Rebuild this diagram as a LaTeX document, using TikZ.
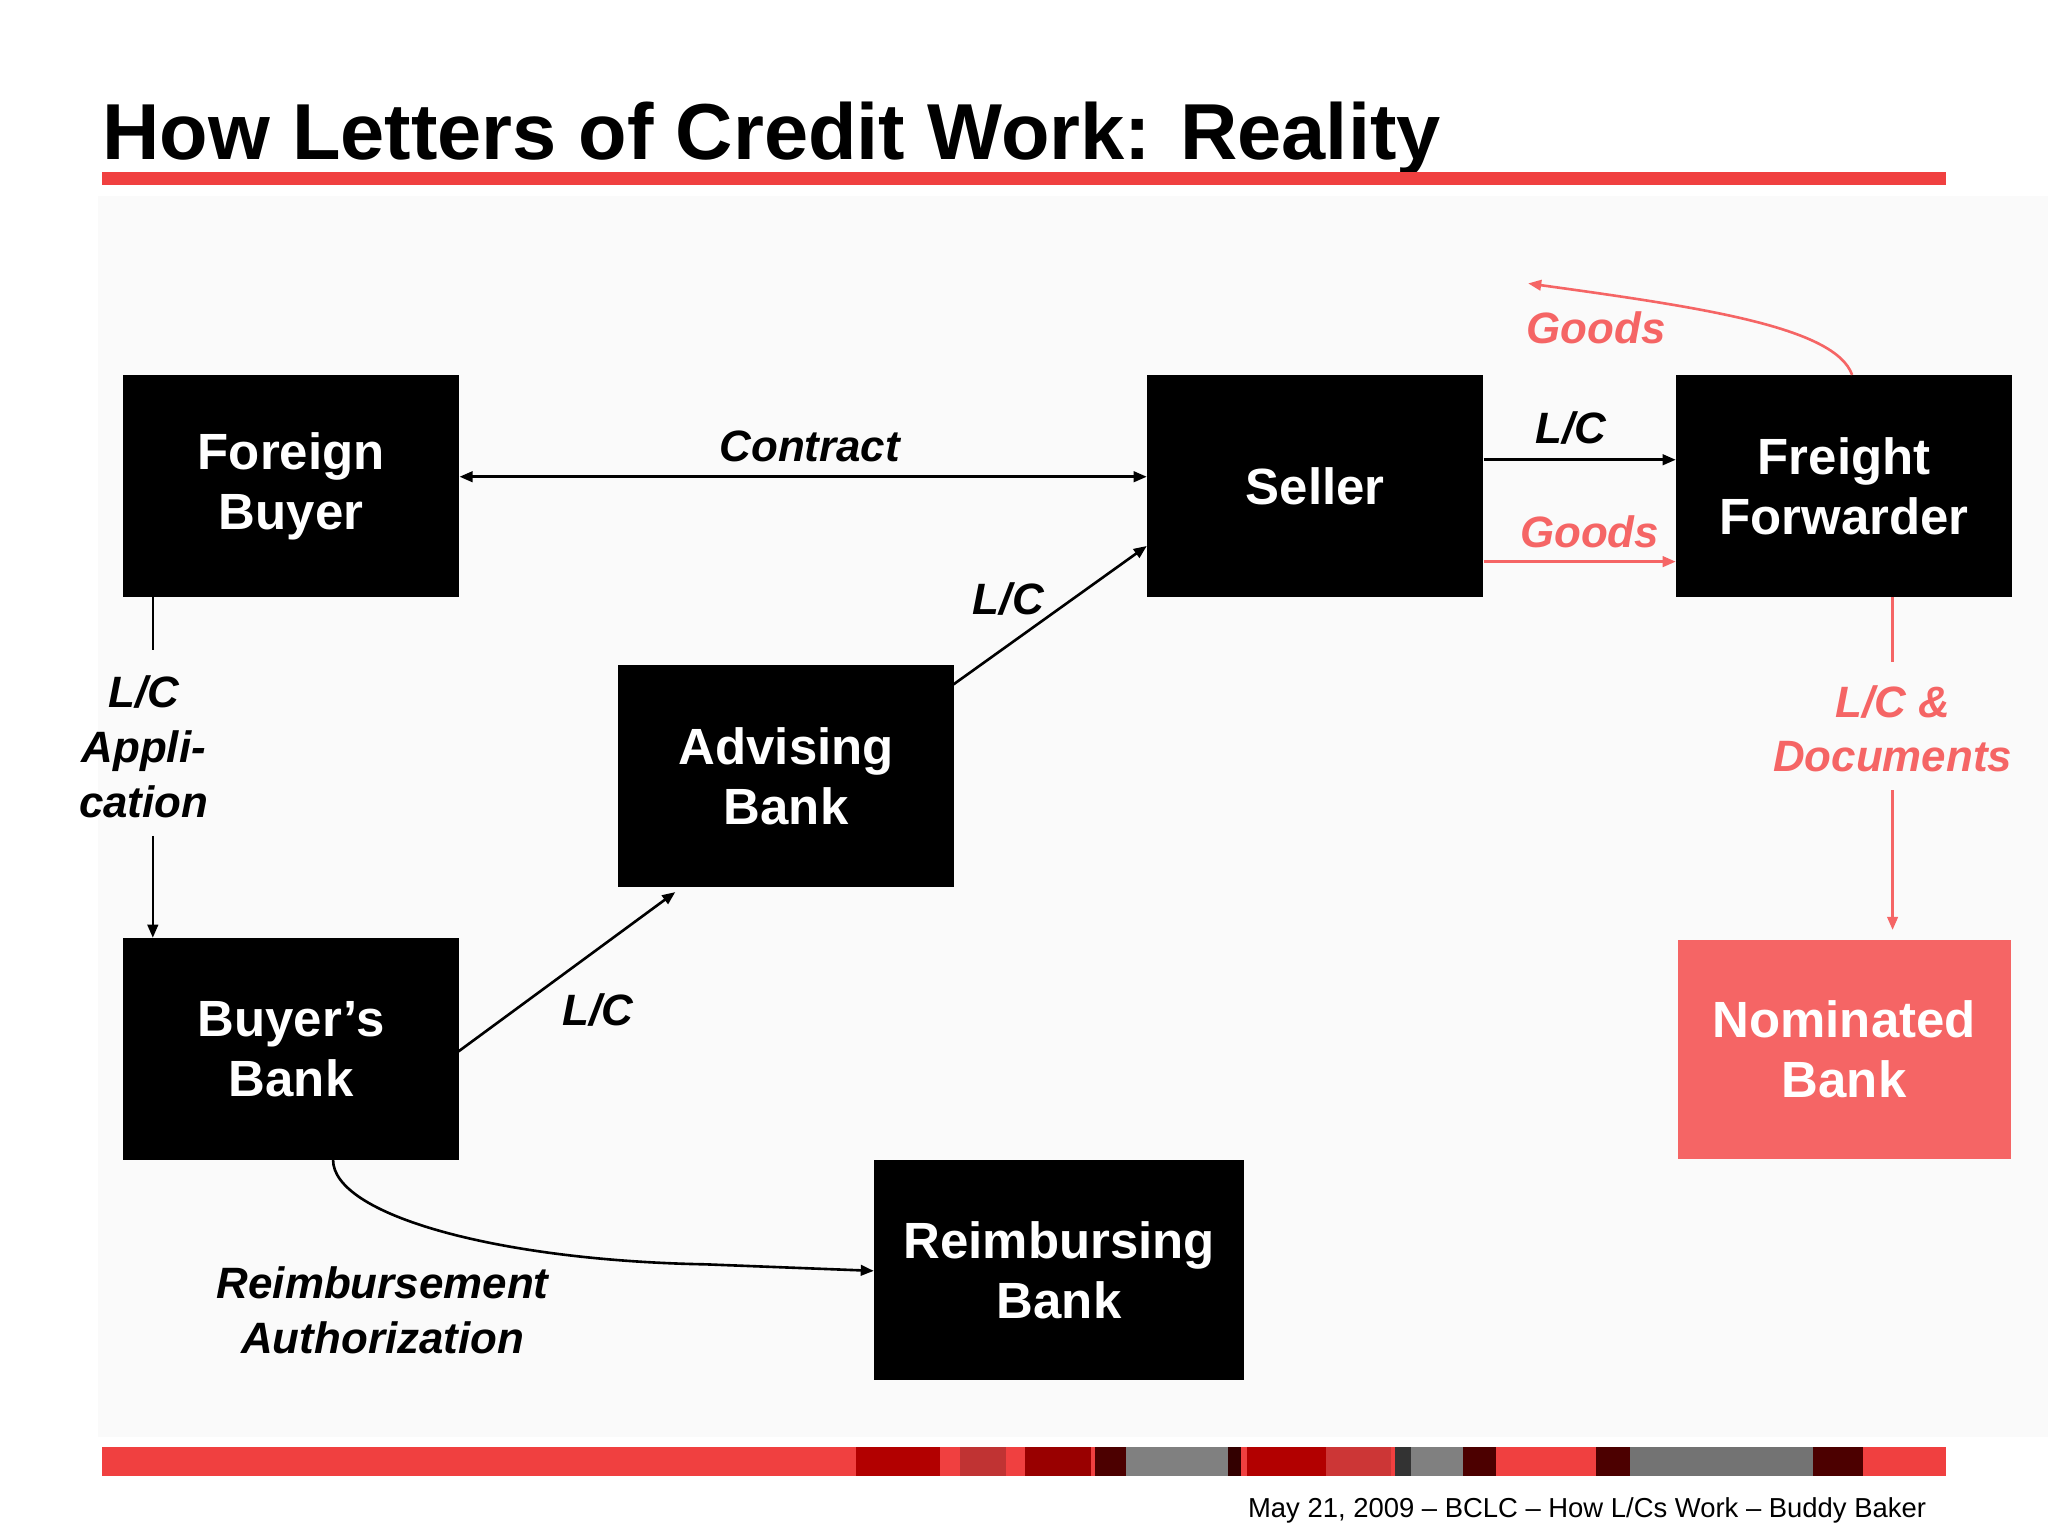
\documentclass[tikz,border=0pt]{standalone}
\usepackage{fontspec}
\setmainfont{Liberation Sans}
\usetikzlibrary{arrows.meta}
\definecolor{barred}{HTML}{F04040}
\definecolor{nomred}{HTML}{F56565}
\begin{document}
\begin{tikzpicture}[x=0.5pt,y=-0.5pt,
  box/.style={fill=black,text=white,font=\fontsize{19.5}{23}\selectfont\bfseries,align=center,anchor=north west,inner sep=0pt,minimum width=128.5pt,minimum height=85pt},
  lab/.style={font=\fontsize{16.8}{21}\selectfont\bfseries\itshape,align=center},
  rlab/.style={lab,text=nomred},
  arr/.style={-{Triangle[length=5pt,width=4pt]},line width=1pt},
  rarr/.style={arr,draw=nomred}]
\useasboundingbox (0,0) rectangle (1568,1176);
\fill[white] (0,0) rectangle (1568,1176);
\fill[black!2] (75,150) rectangle (1568,1100);
\node[anchor=base west,inner sep=0pt,font=\fontsize{30.4}{34}\selectfont\bfseries] (title) at (78,122) {How Letters of Credit Work: Reality};
\fill[barred] (78,132) rectangle (1490,142);
% boxes
\node[box] (fb) at (94,287) {Foreign\\Buyer};
\node[box] (se) at (878,287) {Seller};
\node[box] (ff) at (1283,287) {Freight\\Forwarder};
\node[box] (ab) at (473,509) {Advising\\Bank};
\node[box] (bb) at (94,718) {Buyer’s\\Bank};
\node[box,fill=nomred,minimum width=127.5pt,minimum height=84pt] (nb) at (1284,719) {Nominated\\Bank};
\node[box,minimum width=141.5pt,minimum height=84pt] (rb) at (669,888) {Reimbursing\\Bank};
% contract
\draw[arr,{Triangle[length=5pt,width=4pt]}-{Triangle[length=5pt,width=4pt]}] (fb.east |- 0,365) -- (se.west |- 0,365);
\node[lab] (lc0) at (620,342) {Contract};
% application
\node[lab] (app) at (110,572) {L/C\\Appli-\\cation};
\draw[line width=1pt] (117,457) -- (117,498);
\draw[arr] (117,640) -- (bb.north west -| 117,0);
% bb -> ab
\draw[arr] (351,805) -- (517,683);
\node[lab] (l1) at (458,773) {L/C};
\draw[arr] (730,524) -- (878,418);
\node[lab] (l2) at (772,459) {L/C};
% seller -> ff
\draw[arr] (se.east |- 0,352) -- (ff.west |- 0,352);
\node[lab] (l3) at (1203,328) {L/C};
\draw[rarr] (se.east |- 0,430) -- (ff.west |- 0,430);
\node[rlab] (g1) at (1217,407) {Goods};
\coordinate (gend) at (1170,217);
\draw[rarr] (1418,287) .. controls (1405,250) and (1300,235) .. (gend);
\node[rlab] (g2) at (1222,251) {Goods};
% ff -> nb
\node[rlab] (docs) at (1449,558) {L/C \&\\Documents};
\draw[line width=1pt,nomred] (1449,457) -- (1449,507);
\draw[rarr] (1449,605) -- (1449,712);
% bb -> rb
\draw[arr] (255,888) .. controls (255,930) and (380,965) .. (540,968) -- (rb.west |- 0,973);
\node[lab] (ra) at (293,1003) {Reimbursement\\Authorization};
% bottom bar
\fill[barred] (78,1108) rectangle (1490,1130);
\foreach \a/\b/\c in {655/720/red!70!black,735/770/barred!80!black,785/835/red!60!black,838/862/black!70!red,862/940/gray,940/950/black!80!red,955/1015/red!70!black,1015/1065/barred!85!black,1068/1080/black!80,1080/1120/gray,1120/1145/black!70!red,1222/1248/black!70!red,1248/1388/gray!90!black,1388/1426/black!70!red}
  \fill[\c] (\a,1108) rectangle (\b,1130);
\node[anchor=base east,inner sep=0pt,font=\fontsize{10.5}{12}\selectfont] (foot) at (1475,1162) {May 21, 2009 – BCLC – How L/Cs Work – Buddy Baker};
\end{tikzpicture}
\end{document}
